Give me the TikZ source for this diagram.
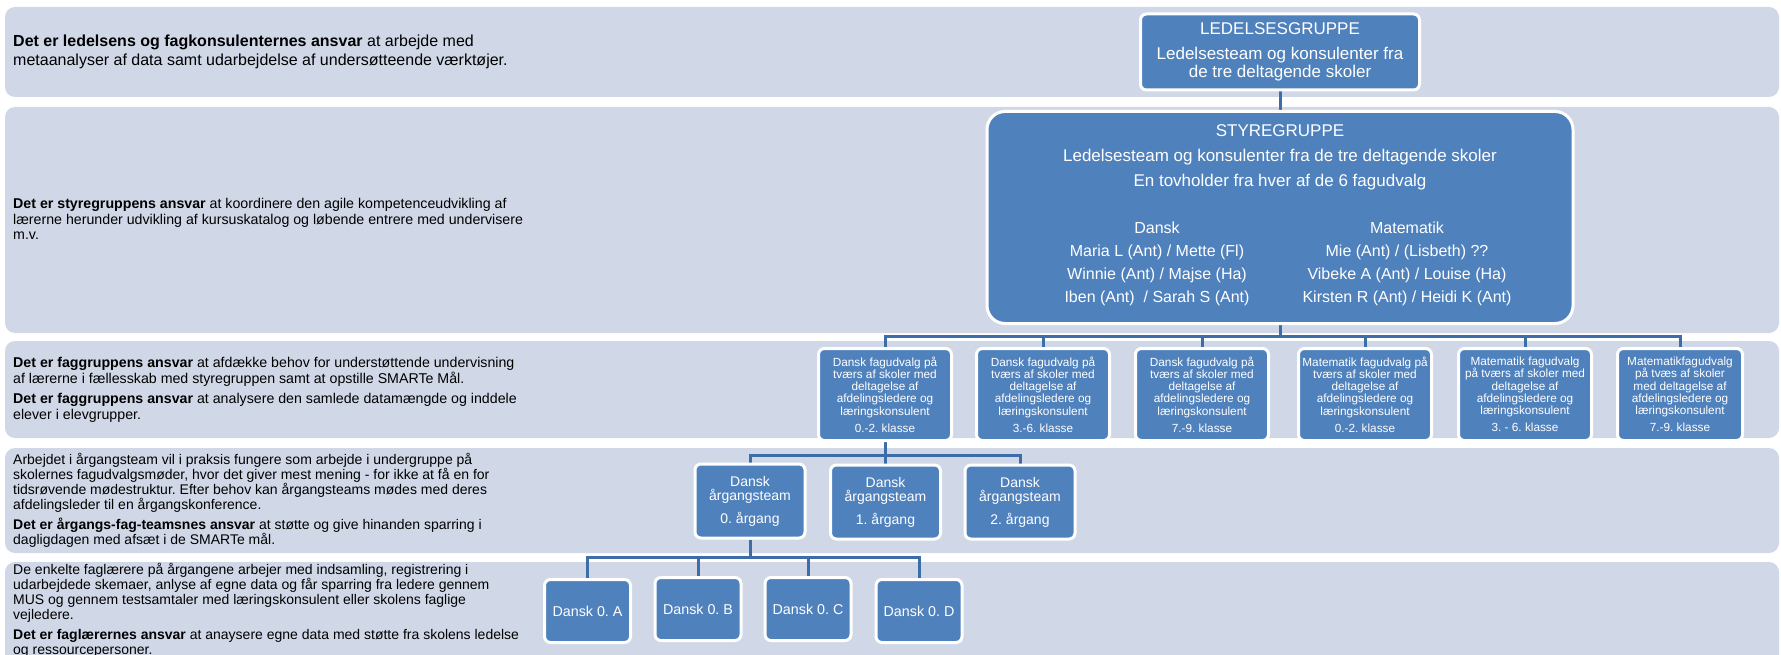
\documentclass[tikz,border=0pt]{standalone}
\usepackage{fontspec}
\setmainfont{Liberation Sans}
\usetikzlibrary{backgrounds}
\definecolor{bandgray}{HTML}{D0D8E8}
\definecolor{boxblue}{HTML}{4F81BD}
\definecolor{linkblue}{HTML}{3D6DA8}
\frenchspacing

\begin{document}
\begin{tikzpicture}[x=1pt, y=-1pt,
  band/.style={fill=bandgray, rounded corners=10pt},
  bandtext/.style={anchor=west, align=left, inner sep=0pt, text=black},
  unit/.style={draw=white, line width=3pt, fill=boxblue, rounded corners=6pt,
    text=white, align=center, inner sep=0pt},
  fag/.style={unit, minimum width=133pt, minimum height=92pt,
    font=\fontsize{11.8}{12.3}\selectfont},
  aarg/.style={unit, minimum width=110pt, minimum height=74pt,
    font=\fontsize{14}{14}\selectfont},
  klasse/.style={unit, minimum width=86pt, minimum height=63pt,
    font=\fontsize{14.3}{16}\selectfont},
  coltext/.style={text=white, align=center, inner sep=0pt,
    font=\fontsize{16}{23}\selectfont},
  link/.style={draw=linkblue, line width=3pt}]
  \useasboundingbox (0,0) rectangle (1781,655);

  % text of the bands
  \node[bandtext, font=\fontsize{16}{19}\selectfont] (t1) at (13,52)
    {\textbf{Det er ledelsens og fagkonsulenternes ansvar} at arbejde med\\
     metaanalyser af data samt udarbejdelse af undersøtteende værktøjer.};
  \node[bandtext, font=\fontsize{14.2}{15.5}\selectfont] (t2) at (13,219)
    {\textbf{Det er styregruppens ansvar} at koordinere den agile kompetenceudvikling af\\
     lærerne herunder udvikling af kursuskatalog og løbende entrere med undervisere\\
     m.v.};
  \node[bandtext, font=\fontsize{14.2}{16}\selectfont] (t3) at (13,390)
    {\textbf{Det er faggruppens ansvar} at afdække behov for understøttende undervisning\\
     af lærerne i fællesskab med styregruppen samt at opstille SMARTe Mål.\\[4pt]
     \textbf{Det er faggruppens ansvar} at analysere den samlede datamængde og inddele\\
     elever i elevgrupper.};
  \node[bandtext, font=\fontsize{14}{15}\selectfont] (t4) at (13,500)
    {Arbejdet i årgangsteam vil i praksis fungere som arbejde i undergruppe på\\
     skolernes fagudvalgsmøder, hvor det giver mest mening - for ikke at få en for\\
     tidsrøvende mødestruktur. Efter behov kan årgangsteams mødes med deres\\
     afdelingsleder til en årgangskonference.\\[5pt]
     \textbf{Det er årgangs-fag-teamsnes ansvar} at støtte og give hinanden sparring i\\
     dagligdagen med afsæt i de SMARTe mål.};
  \node[bandtext, font=\fontsize{14}{15}\selectfont] (t5) at (13,610)
    {De enkelte faglærere på årgangene arbejer med indsamling, registrering i\\
     udarbejdede skemaer, anlyse af egne data og får sparring fra ledere gennem\\
     MUS og gennem testsamtaler med læringskonsulent eller skolens faglige\\
     vejledere.\\[5pt]
     \textbf{Det er faglærernes ansvar} at anaysere egne data med støtte fra skolens ledelse\\
     og ressourcepersoner.};

  % groups
  \node[unit, minimum width=279pt, minimum height=76pt,
    font=\fontsize{17}{18}\selectfont] (led) at (1280,52)
    {LEDELSESGRUPPE\\[7pt]Ledelsesteam og konsulenter fra\\de tre deltagende skoler};
  \node[unit, rounded corners=18pt, minimum width=586pt, minimum height=212pt] (sty) at (1280,217.5) {};
  \node[coltext, font=\fontsize{17}{25}\selectfont] (stytop) at (1280,157)
    {STYREGRUPPE\\Ledelsesteam og konsulenter fra de tre deltagende skoler\\
     En tovholder fra hver af de 6 fagudvalg};
  \node[coltext] (dansk) at (1157,264)
    {Dansk\\Maria L (Ant) / Mette (Fl)\\Winnie (Ant) / Majse (Ha)\\Iben (Ant) \ / Sarah S (Ant)};
  \node[coltext] (mat) at (1407,264)
    {Matematik\\Mie (Ant) / (Lisbeth) ??\\Vibeke A (Ant) / Louise (Ha)\\Kirsten R (Ant) / Heidi K (Ant)};

  \node[fag] (f1) at (885,394.5) {Dansk fagudvalg på\\tværs af skoler med\\deltagelse af\\afdelingsledere og\\læringskonsulent\\[4.7pt]0.-2. klasse};
  \node[fag] (f2) at (1043,394.5) {Dansk fagudvalg på\\tværs af skoler med\\deltagelse af\\afdelingsledere og\\læringskonsulent\\[4.7pt]3.-6. klasse};
  \node[fag] (f3) at (1202,394.5) {Dansk fagudvalg på\\tværs af skoler med\\deltagelse af\\afdelingsledere og\\læringskonsulent\\[4.7pt]7.-9. klasse};
  \node[fag] (f4) at (1365,394.5) {Matematik fagudvalg på\\tværs af skoler med\\deltagelse af\\afdelingsledere og\\læringskonsulent\\[4.7pt]0.-2. klasse};
  \node[fag] (f5) at (1525,394.5) {Matematik fagudvalg\\på tværs af skoler med\\deltagelse af\\afdelingsledere og\\læringskonsulent\\[4.7pt]3. - 6. klasse};
  \node[fag, minimum width=125pt] (f6) at (1680,394.5) {Matematikfagudvalg\\på tvæs af skoler\\med deltagelse af\\afdelingsledere og\\læringskonsulent\\[4.7pt]7.-9. klasse};

  \node[aarg] (a0) at (750,501) {Dansk\\årgangsteam\\[8pt]0. årgang};
  \node[aarg] (a1) at (885.5,502) {Dansk\\årgangsteam\\[8pt]1. årgang};
  \node[aarg] (a2) at (1020,502) {Dansk\\årgangsteam\\[8pt]2. årgang};

  \node[klasse] (k1) at (587.5,611) {Dansk 0. A};
  \node[klasse] (k2) at (698,609) {Dansk 0. B};
  \node[klasse] (k3) at (808,609) {Dansk 0. C};
  \node[klasse] (k4) at (919,611) {Dansk 0. D};

  \begin{scope}[on background layer]
  \fill[band] (5,7) rectangle (1779,97);
  \fill[band] (5,107) rectangle (1779,333);
  \fill[band] (5,341) rectangle (1779,438);
  \fill[band] (5,448) rectangle (1779,553);
  \fill[band] (5,562) rectangle (1779,690);
  \draw[link] (led.south) -- (sty.north);
  \foreach \i in {1,...,6}
   \draw[link] (sty.south) -- ++(0,11) -| (f\i.north);
  \foreach \i in {0,1,2}
   \draw[link] (f1.south) -- ++(0,13) -| (a\i.north);
  \foreach \i in {1,...,4}
   \draw[link] (a0.south) -- ++(0,18) -| (k\i.north);
  \end{scope}
\end{tikzpicture}
\end{document}
